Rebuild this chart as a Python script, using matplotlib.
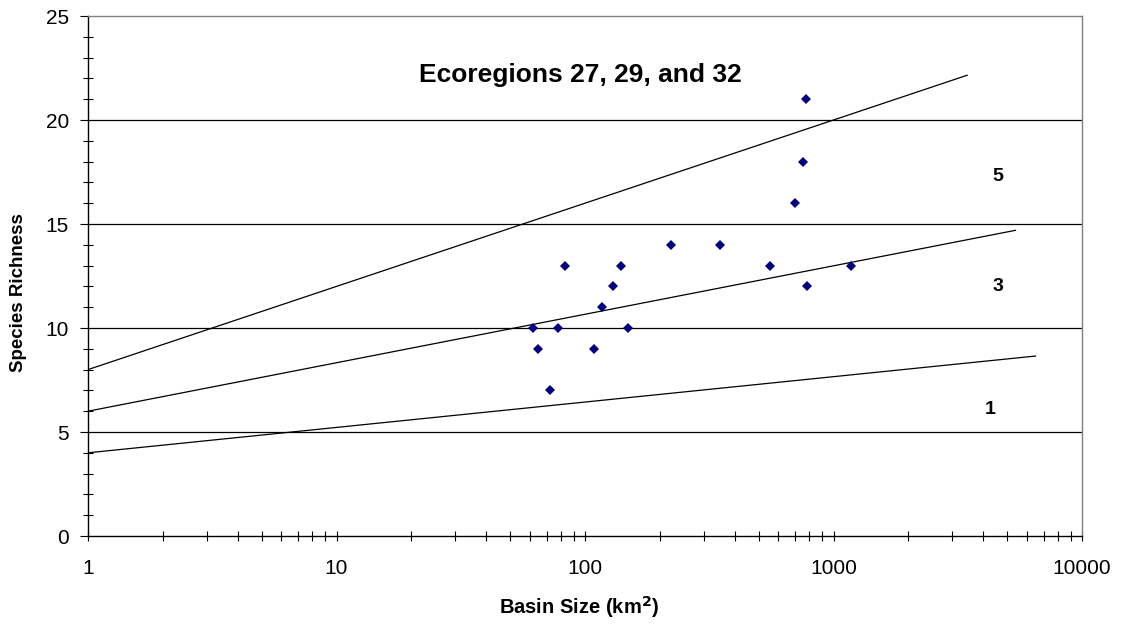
import numpy as np
import matplotlib
matplotlib.use("Agg")
import matplotlib.pyplot as plt
from matplotlib.ticker import LogLocator, NullFormatter, MultipleLocator

plt.rcParams['font.family'] = ['Liberation Sans', 'DejaVu Sans']

# Observed sites: basin area (km^2) and fish species richness
basin_km2 = [775, 751, 698, 221, 350, 83, 140, 555, 1176, 130,
             785, 117, 61.6, 77.6, 148.6, 64.5, 108.7, 72.1]
richness = [21, 18, 16, 14, 14, 13, 13, 13, 13, 12,
            12, 11, 10, 10, 10, 9, 9, 7]

# Scoring lines: richness = intercept + slope * log10(area)
line_scores = ["1", "3", "5"]
line_intercepts = [4.0, 6.0, 8.0]
line_slopes = [1.22, 2.33, 4.0]
line_end_km2 = [6500, 5400, 3450]

# Score labels placed between the lines
score_label_x = [4265, 4590, 4590]
score_label_y = [6.06, 11.99, 17.29]

fig = plt.figure(figsize=(11.25, 6.31), dpi=100)
ax = fig.add_axes([88 / 1125, 1 - 536 / 631, (1082 - 88) / 1125, (536 - 16) / 631])

ax.set_xscale('log')
ax.set_xlim(1, 10000)
ax.set_ylim(0, 25)

# horizontal gridlines
for gy in [5, 10, 15, 20]:
    ax.axhline(gy, color='black', lw=0.9, zorder=1)

# scoring lines
for a, b, xe in zip(line_intercepts, line_slopes, line_end_km2):
    xs = np.array([1.0, xe])
    ax.plot(xs, a + b * np.log10(xs), color='black', lw=0.9, zorder=2)

ax.plot(basin_km2, richness, linestyle='none', marker='D', markersize=4.8,
        color='#000080', markeredgewidth=0, zorder=3)

for s, lx, ly in zip(line_scores, score_label_x, score_label_y):
    ax.text(lx, ly, s, fontsize=14, fontweight='bold', ha='center', va='center')

ax.text(0.495, 0.887, "Ecoregions 27, 29, and 32", transform=ax.transAxes,
        fontsize=19, fontweight='bold', ha='center', va='center')

# axes styling
for side in ['left', 'bottom']:
    ax.spines[side].set_color('black')
    ax.spines[side].set_linewidth(1.0)
for side in ['top', 'right']:
    ax.spines[side].set_color('#808080')
    ax.spines[side].set_linewidth(1.0)

ax.xaxis.set_minor_locator(LogLocator(base=10, subs=np.arange(2, 10), numticks=20))
ax.xaxis.set_minor_formatter(NullFormatter())
ax.set_xticks([1, 10, 100, 1000, 10000])
ax.set_xticklabels(["1", "10", "100", "1000", "10000"])

ax.yaxis.set_major_locator(MultipleLocator(5))
ax.yaxis.set_minor_locator(MultipleLocator(1))

ax.tick_params(axis='x', which='both', direction='inout', length=7.5, width=0.8,
               pad=12.5, labelsize=15, top=False)
ax.tick_params(axis='y', which='major', direction='out', length=5.6, width=0.8,
               pad=8, labelsize=15, right=False)
ax.tick_params(axis='y', which='minor', direction='inout', length=6.5, width=0.8,
               right=False)

ax.set_xlabel("Basin Size (km$^\\mathbf{2}$)", fontsize=14.5, fontweight='bold')
ax.set_ylabel("Species Richness", fontsize=13.5, fontweight='bold')
ax.xaxis.label.set_va('center')
ax.yaxis.label.set_va('center')
ax.xaxis.set_label_coords(0.494, -0.1365)
ax.yaxis.set_label_coords(-0.0704, 0.469)

fig.savefig("out.png", dpi=100)
